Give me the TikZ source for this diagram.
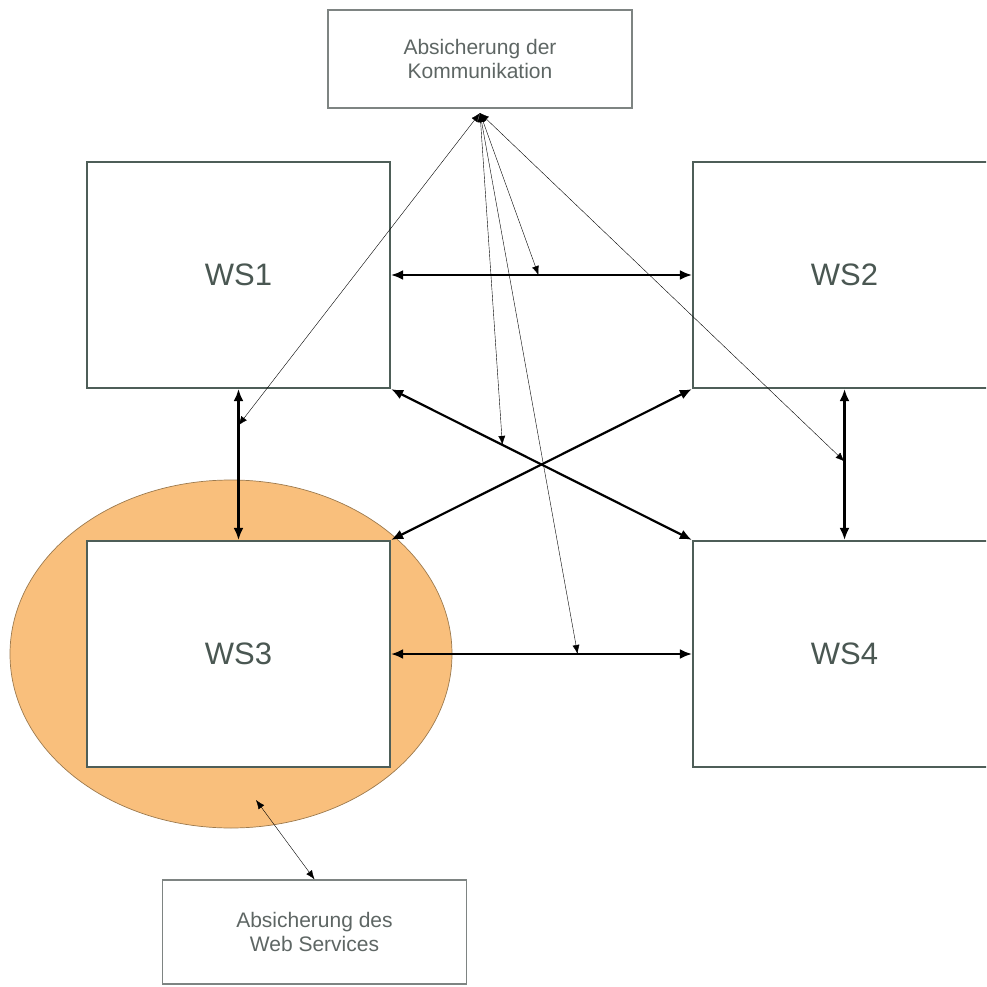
\documentclass[tikz,border=0pt]{standalone}
\usepackage{fontspec}
\setmainfont{Liberation Sans}
\usetikzlibrary{arrows.meta,calc}
\definecolor{boxline}{HTML}{4E5E58}
\definecolor{wstext}{HTML}{4A5752}
\definecolor{notetext}{HTML}{5E6664}
\definecolor{noteline}{HTML}{7E8482}
\definecolor{wsfill}{HTML}{F9BF7C}
\definecolor{wsedge}{HTML}{9C7A4E}
\definecolor{thin}{HTML}{3E3E3E}
\begin{document}
\begin{tikzpicture}[x=1pt,y=-1pt,
  wsbox/.style={draw=boxline,line width=2.2pt,fill=white,minimum width=303pt,minimum height=226pt,
    inner sep=0pt,font=\fontsize{31}{36}\selectfont,text=wstext},
  notebox/.style={draw=noteline,line width=1.3pt,fill=white,minimum width=304pt,inner sep=0pt,
    align=center,font=\fontsize{21}{24}\selectfont,text=notetext},
  link/.style={line width=2.2pt,black,{Latex[length=12pt,width=10pt]}-{Latex[length=12pt,width=10pt]}},
  thinlink/.style={line width=1.1pt,thin,{Latex[length=9pt,width=7pt]}-{Latex[length=9pt,width=7pt]}}]
\useasboundingbox (0,0) rectangle (986,987);
\clip (0,0) rectangle (986,987);

% protected zone around WS3
\draw[fill=wsfill,draw=wsedge,line width=0.7pt] (231,654) ellipse [x radius=221,y radius=174];

% web services
\node[wsbox] (ws1) at (238.5,275) {WS1};
\node[wsbox] (ws2) at (844.5,275) {WS2};
\node[wsbox] (ws3) at (238.5,654) {WS3};
\node[wsbox] (ws4) at (844.5,654) {WS4};

% annotation boxes
\node[notebox,minimum height=98pt] (komm) at (480,59) {Absicherung der\\Kommunikation};
\node[notebox,minimum height=104pt] (sec) at (314.5,932) {Absicherung des\\Web Services};

% communication links
\draw[link] (ws1.east) -- (ws2.west);
\draw[link] (ws3.east) -- (ws4.west);
\draw[link] (ws1.south) -- (ws3.north);
\draw[link] (ws2.south) -- (ws4.north);
\draw[link] (ws1.south east) -- (ws4.north west);
\draw[link] (ws2.south west) -- (ws3.north east);

% points on the links that are secured
\coordinate (k) at (480,113);
\coordinate (l13) at ($(ws1.south)!0.24!(ws3.north)$);
\coordinate (l12) at ($(ws1.east)!0.49!(ws2.west)$);
\coordinate (l14) at ($(ws1.south east)!0.37!(ws4.north west)$);
\coordinate (l34) at ($(ws3.east)!0.62!(ws4.west)$);
\coordinate (l24) at ($(ws2.south)!0.48!(ws4.north)$);

\draw[thinlink] (k) -- (l13);
\draw[thinlink] (k) -- (l12);
\draw[thinlink] (k) -- (l14);
\draw[thinlink] (k) -- (l34);
\draw[thinlink] (k) -- (l24);

% web service security
\coordinate (e) at (256,800);
\draw[thinlink] (e) -- (sec.north);
\end{tikzpicture}
\end{document}
